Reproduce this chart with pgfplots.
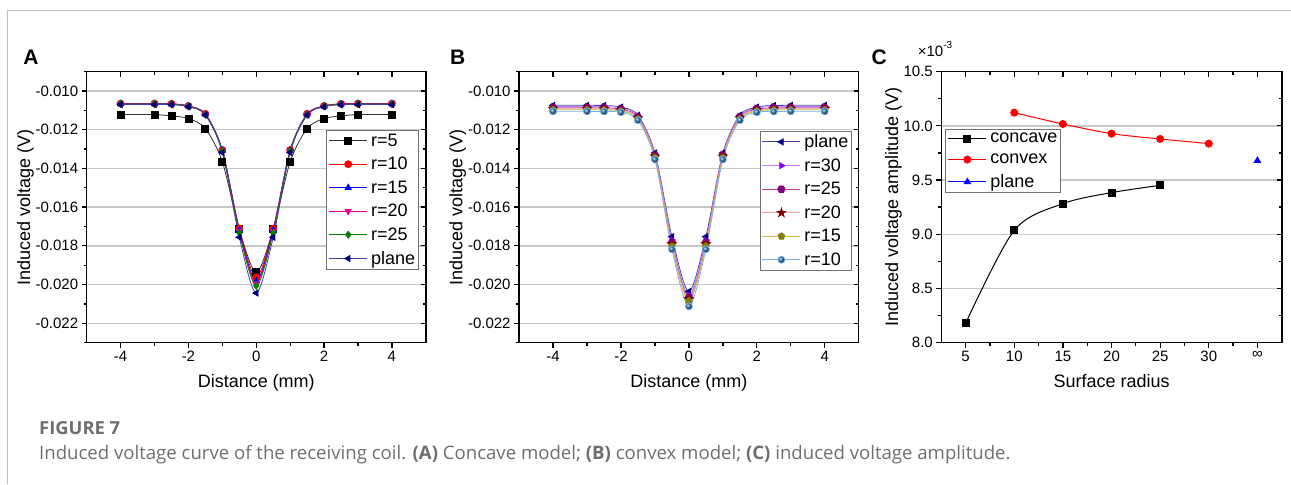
\documentclass[border=0pt]{standalone}
\usepackage{fontspec}
\setmainfont{Liberation Sans}
\newfontfamily\capfont{Open Sans}
\usepackage{pgfplots}
\usepackage{pgfplotstable}
\pgfplotsset{compat=1.18}
\usetikzlibrary{plotmarks}

\definecolor{cnavy}{HTML}{000080}
\definecolor{cgreen}{HTML}{008000}
\definecolor{cviolet}{HTML}{8000FF}
\definecolor{cpurple}{HTML}{800080}
\definecolor{cdred}{HTML}{800000}
\definecolor{colive}{HTML}{808000}
\definecolor{cball}{HTML}{1F6FB4}
\definecolor{lnavy}{HTML}{4040A8}
\definecolor{lviolet}{HTML}{C080FF}
\definecolor{lpurple}{HTML}{C040A0}
\definecolor{ldred}{HTML}{F0A0A0}
\definecolor{lolive}{HTML}{C0C040}
\definecolor{lball}{HTML}{80B0E0}
\definecolor{capgray}{HTML}{6E6E6E}

\pgfdeclareplotmark{hexagon*}{%
  \pgfpathmoveto{\pgfpointpolar{0}{1.1\pgfplotmarksize}}%
  \pgfpathlineto{\pgfpointpolar{60}{1.1\pgfplotmarksize}}%
  \pgfpathlineto{\pgfpointpolar{120}{1.1\pgfplotmarksize}}%
  \pgfpathlineto{\pgfpointpolar{180}{1.1\pgfplotmarksize}}%
  \pgfpathlineto{\pgfpointpolar{240}{1.1\pgfplotmarksize}}%
  \pgfpathlineto{\pgfpointpolar{300}{1.1\pgfplotmarksize}}%
  \pgfpathclose\pgfusepathqfillstroke}
\pgfdeclareplotmark{fstar}{%
  \pgfpathmoveto{\pgfpointpolar{90}{1.3\pgfplotmarksize}}%
  \pgfpathlineto{\pgfpointpolar{126}{0.5\pgfplotmarksize}}%
  \pgfpathlineto{\pgfpointpolar{162}{1.3\pgfplotmarksize}}%
  \pgfpathlineto{\pgfpointpolar{198}{0.5\pgfplotmarksize}}%
  \pgfpathlineto{\pgfpointpolar{234}{1.3\pgfplotmarksize}}%
  \pgfpathlineto{\pgfpointpolar{270}{0.5\pgfplotmarksize}}%
  \pgfpathlineto{\pgfpointpolar{306}{1.3\pgfplotmarksize}}%
  \pgfpathlineto{\pgfpointpolar{342}{0.5\pgfplotmarksize}}%
  \pgfpathlineto{\pgfpointpolar{18}{1.3\pgfplotmarksize}}%
  \pgfpathlineto{\pgfpointpolar{54}{0.5\pgfplotmarksize}}%
  \pgfpathclose\pgfusepathqfillstroke}

\pgfplotstableread{
x    r5       r10      r15      r20      r25      plane
-4   -0.01122 -0.01065 -0.01066 -0.01066 -0.01067 -0.01070
-3   -0.01122 -0.01065 -0.01066 -0.01066 -0.01067 -0.01070
-2.5 -0.01129 -0.01066 -0.01067 -0.01067 -0.01068 -0.01071
-2   -0.01142 -0.01077 -0.01078 -0.01078 -0.01079 -0.01081
-1.5 -0.01194 -0.01118 -0.01120 -0.01121 -0.01122 -0.01124
-1   -0.01366 -0.01305 -0.01307 -0.01308 -0.01310 -0.01318
-0.5 -0.01715 -0.01711 -0.01718 -0.01725 -0.01733 -0.01756
0    -0.01936 -0.01962 -0.01982 -0.01995 -0.02007 -0.02044
0.5  -0.01715 -0.01711 -0.01718 -0.01725 -0.01733 -0.01756
1    -0.01366 -0.01305 -0.01307 -0.01308 -0.01310 -0.01318
1.5  -0.01194 -0.01118 -0.01120 -0.01121 -0.01122 -0.01124
2    -0.01142 -0.01077 -0.01078 -0.01078 -0.01079 -0.01081
2.5  -0.01129 -0.01066 -0.01067 -0.01067 -0.01068 -0.01071
3    -0.01122 -0.01065 -0.01066 -0.01066 -0.01067 -0.01070
4    -0.01122 -0.01065 -0.01066 -0.01066 -0.01067 -0.01070
}\dataA

\pgfplotstableread{
x    plane    r30      r25      r20      r15      r10
-4   -0.01074 -0.01080 -0.01087 -0.01092 -0.01097 -0.01105
-3   -0.01074 -0.01080 -0.01087 -0.01092 -0.01097 -0.01105
-2.5 -0.01075 -0.01081 -0.01088 -0.01093 -0.01098 -0.01106
-2   -0.01083 -0.01088 -0.01094 -0.01099 -0.01104 -0.01110
-1.5 -0.01125 -0.01130 -0.01135 -0.01140 -0.01145 -0.01151
-1   -0.01320 -0.01327 -0.01333 -0.01338 -0.01344 -0.01354
-0.5 -0.01753 -0.01770 -0.01783 -0.01792 -0.01802 -0.01818
0    -0.02036 -0.02055 -0.02068 -0.02075 -0.02085 -0.02113
0.5  -0.01753 -0.01770 -0.01783 -0.01792 -0.01802 -0.01818
1    -0.01320 -0.01327 -0.01333 -0.01338 -0.01344 -0.01354
1.5  -0.01125 -0.01130 -0.01135 -0.01140 -0.01145 -0.01151
2    -0.01083 -0.01088 -0.01094 -0.01099 -0.01104 -0.01110
2.5  -0.01075 -0.01081 -0.01088 -0.01093 -0.01098 -0.01106
3    -0.01074 -0.01080 -0.01087 -0.01092 -0.01097 -0.01105
4    -0.01074 -0.01080 -0.01087 -0.01092 -0.01097 -0.01105
}\dataB

\pgfplotsset{
  framebase/.style={
    scale only axis, height=271pt, anchor=south west,
    axis line style={line width=1.6pt},
    every tick/.style={line width=1.3pt, black},
    major tick length=5pt, minor tick length=3pt,
    scaled y ticks=false, scaled x ticks=false,
  },
  base/.style={
    framebase,
    tick align=outside, xtick pos=left, ytick pos=left,
    ymajorgrids, grid style={black!22, line width=1.4pt},
    tick label style={font=\fontsize{15}{15}\selectfont},
    label style={font=\fontsize{18}{18}\selectfont},
    ylabel shift=-5pt, xlabel shift=6pt,
    legend style={font=\fontsize{18}{18}\selectfont, draw=black!55, line width=0.8pt,
      inner sep=2pt, row sep=6.5pt, column sep=2pt, nodes={inner sep=1.5pt}, cells={anchor=west}},
    every axis plot/.append style={line width=0.8pt, smooth, mark size=3.5pt},
  },
  over/.style={
    framebase,
    tick align=inside, xtick pos=right, ytick pos=right,
    xticklabels={}, yticklabels={},
  },
}

\begin{document}
\begin{tikzpicture}
\path (0pt,0pt) rectangle (1291pt,484pt);
\draw[black!25, line width=1pt] (7.3pt,0pt) -- (7.3pt,473.3pt) -- (1291pt,473.3pt);

% ---------------- Panel A ----------------
\begin{axis}[base, at={(86.7pt,141.3pt)}, width=339.3pt,
  legend image code/.code={\draw[#1] (0pt,0pt) -- (38pt,0pt); \draw[#1] plot coordinates {(19pt,0pt)};},
  xmin=-5, xmax=5, ymin=-0.023, ymax=-0.009,
  xtick={-4,-2,0,2,4}, xticklabels={-4,-2,0,2,4}, minor xtick={-3,-1,1,3},
  ytick={-0.022,-0.020,-0.018,-0.016,-0.014,-0.012,-0.010},
  yticklabels={-0.022,-0.020,-0.018,-0.016,-0.014,-0.012,-0.010},
  minor ytick={-0.023,-0.021,-0.019,-0.017,-0.015,-0.013,-0.011,-0.009},
  xlabel={Distance (mm)}, ylabel={Induced voltage (V)},
  legend style={at={(0.980,0.785)}, anchor=north east}]
\addplot[black!80, mark=square*, mark options={draw=black, fill=black}] table[x=x,y=r5]{\dataA};
\addlegendentry{r=5}
\addplot[red, mark=*, mark options={draw=red, fill=red}] table[x=x,y=r10]{\dataA};
\addlegendentry{r=10}
\addplot[blue, mark=triangle*, mark options={draw=blue, fill=blue}] table[x=x,y=r15]{\dataA};
\addlegendentry{r=15}
\addplot[magenta, mark=triangle*, mark options={draw=magenta, fill=magenta, rotate=180}] table[x=x,y=r20]{\dataA};
\addlegendentry{r=20}
\addplot[cgreen, mark=diamond*, mark options={draw=cgreen, fill=cgreen}] table[x=x,y=r25]{\dataA};
\addlegendentry{r=25}
\addplot[lnavy, mark=triangle*, mark options={draw=cnavy, fill=cnavy, rotate=90}] table[x=x,y=plane]{\dataA};
\addlegendentry{plane}
\end{axis}
\begin{axis}[over, at={(86.7pt,141.3pt)}, width=339.3pt,
  xmin=-5, xmax=5, ymin=-0.023, ymax=-0.009,
  xtick={-4,-2,0,2,4}, minor xtick={-3,-1,1,3},
  ytick={-0.022,-0.020,-0.018,-0.016,-0.014,-0.012,-0.010},
  minor ytick={-0.023,-0.021,-0.019,-0.017,-0.015,-0.013,-0.011,-0.009}]
\end{axis}

% ---------------- Panel B ----------------
\begin{axis}[base, at={(519.3pt,141.3pt)}, width=339.7pt,
  legend image code/.code={\draw[#1] (0pt,0pt) -- (38pt,0pt); \draw[#1] plot coordinates {(19pt,0pt)};},
  xmin=-5, xmax=5, ymin=-0.023, ymax=-0.009,
  xtick={-4,-2,0,2,4}, xticklabels={-4,-2,0,2,4}, minor xtick={-3,-1,1,3},
  ytick={-0.022,-0.020,-0.018,-0.016,-0.014,-0.012,-0.010},
  yticklabels={-0.022,-0.020,-0.018,-0.016,-0.014,-0.012,-0.010},
  minor ytick={-0.023,-0.021,-0.019,-0.017,-0.015,-0.013,-0.011,-0.009},
  xlabel={Distance (mm)}, ylabel={Induced voltage (V)},
  legend style={at={(0.981,0.782)}, anchor=north east}]
\addplot[lnavy, mark=triangle*, mark options={draw=cnavy, fill=cnavy, rotate=90}] table[x=x,y=plane]{\dataB};
\addlegendentry{plane}
\addplot[lviolet, mark=triangle*, mark options={draw=cviolet, fill=cviolet, rotate=-90}] table[x=x,y=r30]{\dataB};
\addlegendentry{r=30}
\addplot[lpurple, mark=hexagon*, mark options={draw=cpurple, fill=cpurple}] table[x=x,y=r25]{\dataB};
\addlegendentry{r=25}
\addplot[ldred, mark=fstar, mark options={draw=cdred, fill=cdred}] table[x=x,y=r20]{\dataB};
\addlegendentry{r=20}
\addplot[lolive, mark=pentagon*, mark options={draw=colive, fill=colive}] table[x=x,y=r15]{\dataB};
\addlegendentry{r=15}
\addplot[lball, mark=ball, mark options={ball color=cball, draw=none}] table[x=x,y=r10]{\dataB};
\addlegendentry{r=10}
\end{axis}
\begin{axis}[over, at={(519.3pt,141.3pt)}, width=339.7pt,
  xmin=-5, xmax=5, ymin=-0.023, ymax=-0.009,
  xtick={-4,-2,0,2,4}, minor xtick={-3,-1,1,3},
  ytick={-0.022,-0.020,-0.018,-0.016,-0.014,-0.012,-0.010},
  minor ytick={-0.023,-0.021,-0.019,-0.017,-0.015,-0.013,-0.011,-0.009}]
\end{axis}

% ---------------- Panel C ----------------
\begin{axis}[base, at={(941.7pt,141.3pt)}, width=340.5pt,
  legend image code/.code={\draw[#1] (0pt,0pt) -- (38pt,0pt); \draw[#1] plot coordinates {(19pt,0pt)};},
  xmin=2.5, xmax=37.5, ymin=8.0, ymax=10.5,
  xtick={5,10,15,20,25,30,35}, xticklabels={5,10,15,20,25,30,∞},
  minor xtick={7.5,12.5,17.5,22.5,27.5,32.5},
  ytick={8.0,8.5,9.0,9.5,10.0,10.5}, yticklabels={8.0,8.5,9.0,9.5,10.0,10.5},
  minor ytick={8.25,8.75,9.25,9.75,10.25},
  xlabel={Surface radius}, ylabel={Induced voltage amplitude (V)},
  legend style={at={(0.012,0.787)}, anchor=north west}]
\addplot[black, line width=1pt, mark=square*, mark options={draw=black, fill=black}] coordinates {
 (5,8.178) (10,9.036) (15,9.282) (20,9.384) (25,9.451)};
\addlegendentry{concave}
\addplot[red, line width=1pt, mark=*, mark options={draw=red, fill=red}] coordinates {
 (10,10.122) (15,10.017) (20,9.928) (25,9.879) (30,9.836)};
\addlegendentry{convex}
\addplot[blue, line width=1pt, mark=triangle*, mark options={draw=blue, fill=blue}] coordinates {(35,9.679)};
\addlegendentry{plane}
\end{axis}
\begin{axis}[over, at={(941.7pt,141.3pt)}, width=340.5pt,
  xmin=2.5, xmax=37.5, ymin=8.0, ymax=10.5,
  xtick={5,10,15,20,25,30,35}, minor xtick={7.5,12.5,17.5,22.5,27.5,32.5},
  ytick={8.0,8.5,9.0,9.5,10.0,10.5}, minor ytick={8.25,8.75,9.25,9.75,10.25}]
\end{axis}

% ---------------- labels ----------------
\node[anchor=base west, inner sep=0pt, font=\fontsize{21}{21}\selectfont\bfseries] at (23.3pt,419pt) {A};
\node[anchor=base west, inner sep=0pt, font=\fontsize{21}{21}\selectfont\bfseries] at (450pt,419pt) {B};
\node[anchor=base west, inner sep=0pt, font=\fontsize{21}{21}\selectfont\bfseries] at (871.7pt,419pt) {C};
\node[anchor=base west, inner sep=0pt, font=\fontsize{15}{15}\selectfont] at (918pt,427.3pt) {×10\raisebox{0.55em}{\fontsize{10}{10}\selectfont -3}};

\node[anchor=base west, inner sep=0pt, text=capgray] at (39pt,49pt) {\resizebox{81pt}{13pt}{\capfont\bfseries FIGURE 7}};
\node[anchor=base west, inner sep=0pt, text=capgray, font=\capfont\fontsize{18.6}{18.6}\selectfont] at (39pt,24pt) {Induced voltage curve of the receiving coil. \textbf{(A)} Concave model; \textbf{(B)} convex model; \textbf{(C)} induced voltage amplitude.};
\end{tikzpicture}
\end{document}
